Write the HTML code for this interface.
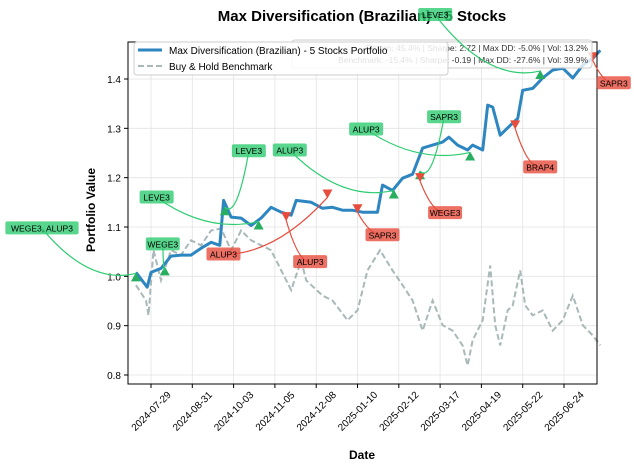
<!DOCTYPE html>
<html><head><meta charset="utf-8"><style>
body{margin:0;background:#fff}
svg{font-family:"Liberation Sans","DejaVu Sans",sans-serif}
</style></head><body>
<svg id="chart" width="634" height="470" viewBox="0 0 634 470">
<rect width="634" height="470" fill="#fff"/>
<text x="362" y="21" text-anchor="middle" font-size="15" font-weight="bold">Max Diversification (Brazilian) - 5 Stocks</text>
<g id="grid"></g>
<g id="series"></g>
<g id="markers"></g>
<g id="axes"></g>
<text x="362" y="459" text-anchor="middle" font-size="12" font-weight="bold">Date</text>
<text transform="translate(95,210) rotate(-90)" text-anchor="middle" font-size="12" font-weight="bold">Portfolio Value</text>
<g id="stats">
<rect x="292" y="40" width="300" height="28" rx="3" fill="#fff" fill-opacity="0.8" stroke="#ccc"/>
<text x="588" y="51" text-anchor="end" font-size="8.5" fill="#333">Return: 45.4% | Sharpe: 2.72 | Max DD: -5.0% | Vol: 13.2%</text>
<text x="588" y="63" text-anchor="end" font-size="8.5" fill="#333">Benchmark: -15.4% | Sharpe: -0.19 | Max DD: -27.6% | Vol: 39.9%</text>
</g>
<g>
<rect x="134" y="42" width="314" height="33" rx="3" fill="#fff" fill-opacity="0.85" stroke="#ccc"/>
<line x1="138" y1="50" x2="162" y2="50" stroke="#2e86c1" stroke-width="3"/>
<text x="169" y="54" font-size="10">Max Diversification (Brazilian) - 5 Stocks Portfolio</text>
<line x1="138" y1="66" x2="162" y2="66" stroke="#a9b8b8" stroke-width="2" stroke-dasharray="6,3"/>
<text x="169" y="70" font-size="10">Buy &amp; Hold Benchmark</text>
</g>
<g id="annots"></g>
</svg>
<script>
// days since 2024-07-29
const portDays=[-12,-3,0,8,16,24,32,40,48,55,58,64,72,80,88,96,104,112,116,128,137,145,153,161,169,181,185,193,201,209,217,225,233,238,245,253,257,265,269,273,279,287,293,297,305,313,321,329,337,345,353,359];
const portVals=[1.008,0.978,1.008,1.016,1.041,1.043,1.043,1.057,1.069,1.063,1.154,1.120,1.118,1.103,1.118,1.140,1.130,1.124,1.154,1.150,1.138,1.140,1.134,1.134,1.130,1.130,1.185,1.174,1.199,1.207,1.260,1.266,1.272,1.282,1.266,1.256,1.266,1.256,1.347,1.343,1.286,1.306,1.320,1.377,1.381,1.402,1.418,1.422,1.402,1.428,1.442,1.458];
const benchDays=[-12,-4,-2,2,8,16,24,32,40,48,56,64,72,80,88,96,104,112,120,124,137,145,157,165,173,183,193,201,209,217,225,233,241,249,253,257,265,271,275,279,285,289,295,299,305,313,321,329,337,345,353,359];
const benchVals=[0.982,0.951,0.921,1.053,0.992,1.053,1.043,1.073,1.063,1.093,1.097,1.053,1.093,1.073,1.063,1.053,1.012,0.972,1.032,0.992,0.961,0.951,0.911,0.931,1.012,1.053,1.012,0.982,0.951,0.890,0.951,0.901,0.890,0.860,0.819,0.870,0.911,1.022,0.901,0.860,0.931,0.941,1.012,0.941,0.921,0.931,0.890,0.911,0.961,0.901,0.880,0.860];
const buyDays=[-12,11,59,86,194,215,255,311];
const buyVals=[0.998,1.010,1.132,1.103,1.166,1.205,1.243,1.408];
const buyLabels=["WEGE3, ALUP3","WEGE3","LEVE3","LEVE3","ALUP3","SAPR3","ALUP3","LEVE3"];
const sellDays=[108,141,165,215,291,353];
const sellVals=[1.122,1.168,1.138,1.201,1.308,1.446];
const sellLabels=["ALUP3","ALUP3","SAPR3","WEGE3","BRAP4","SAPR3"];
const xTickDays=[0,33,66,99,132,165,198,231,264,297,330];
const xTickLabels=["2024-07-29","2024-08-31","2024-10-03","2024-11-05","2024-12-08","2025-01-10","2025-02-12","2025-03-17","2025-04-19","2025-05-22","2025-06-24"];
const yTicks=[0.8,0.9,1.0,1.1,1.2,1.3,1.4];

const L=128,R=597,T=42,B=384;
const xs=d=>151+d*(41.3/33);
const ys=v=>375-(v-0.8)*(296/0.6);
const NS="http://www.w3.org/2000/svg";
function mk(tag,attrs,parent){const e=document.createElementNS(NS,tag);for(const k in attrs)e.setAttribute(k,attrs[k]);parent.appendChild(e);return e;}
const grid=document.getElementById('grid'),axes=document.getElementById('axes'),ser=document.getElementById('series'),mks=document.getElementById('markers'),ann=document.getElementById('annots');
yTicks.forEach(v=>{
 const y=ys(v);
 const g=mk('line',{x1:L,x2:R,y1:y,y2:y,stroke:'#e3e3e3','stroke-width':0.8},grid);
 
 
 mk('line',{x1:L-4,x2:L,y1:y,y2:y,stroke:'#000'},axes);
 const t=mk('text',{x:L-7,y:y+4,'text-anchor':'end','font-size':10},axes);
 t.textContent=v.toFixed(1);
 
 
});
xTickDays.forEach((d,i)=>{
 const x=xs(d);
 const g=mk('line',{x1:x,x2:x,y1:T,y2:B,stroke:'#e3e3e3','stroke-width':0.8},grid);
 
 
 mk('line',{x1:x,x2:x,y1:B,y2:B+4,stroke:'#000'},axes);
 const t=mk('text',{x:0,y:3.5,'text-anchor':'middle','font-size':10,transform:`translate(${x},${B+27}) rotate(-45)`},axes);
 t.textContent=xTickLabels[i];
 
 
});
const fr=mk('rect',{x:L,y:T,width:R-L,height:B-T,fill:'none',stroke:'#000','stroke-width':1},axes);


const bp=mk('path',{d:benchDays.map((d,i)=>(i?'L':'M')+xs(d).toFixed(1)+','+ys(benchVals[i]).toFixed(1)).join(''),fill:'none',stroke:'#a9b8b8','stroke-width':2,'stroke-dasharray':'6,3'},ser);


const pp=mk('path',{d:portDays.map((d,i)=>(i?'L':'M')+xs(d).toFixed(1)+','+ys(portVals[i]).toFixed(1)).join(''),fill:'none',stroke:'#2e86c1','stroke-width':3,'stroke-linejoin':'round'},ser);


// label offsets (style, not data)
const buyOff=[[-94,-49],[-2,-27],[24,-60],[-102,-28],[-104,-44],[24,-58],[-104,-27],[-105,-60]];
const sellOff=[[24,46],[-104,61],[25,27],[25,36],[25,43],[21,27]];
function annot(x,y,dx,dy,label,col,kind){
 const lx=x+dx,ly=y+dy;
 const a=mk('path',{d:`M${lx},${ly} Q${(lx+x)/2},${Math.max(ly,y)-(kind==='b'?-8:0)} ${x},${y+(kind==='b'?-4:4)}`,fill:'none',stroke:col,'stroke-width':1.2},ann);
 
 
 const w=label.length*5.6+6;
 const r=mk('rect',{x:lx-w/2,y:ly-7,width:w,height:13,rx:2,fill:col,'fill-opacity':0.8},ann);
 
 
 const t=mk('text',{x:lx,y:ly+3,'text-anchor':'middle','font-size':8.5,fill:'#000'},ann);
 t.textContent=label;
 
 
}
buyDays.forEach((d,i)=>{
 const x=xs(d),y=ys(buyVals[i]);
 const m=mk('path',{d:`M${x},${y-5}L${x+5},${y+4}L${x-5},${y+4}Z`,fill:'#27ae60'},mks);
 
 
 annot(x,y,buyOff[i][0],buyOff[i][1],buyLabels[i],'#2ecc71','b');
});
sellDays.forEach((d,i)=>{
 const x=xs(d),y=ys(sellVals[i]);
 const m=mk('path',{d:`M${x},${y+5}L${x+5},${y-4}L${x-5},${y-4}Z`,fill:'#e74c3c'},mks);
 
 
 annot(x,y,sellOff[i][0],sellOff[i][1],sellLabels[i],'#e74c3c','s');
});
</script>
</body></html>
